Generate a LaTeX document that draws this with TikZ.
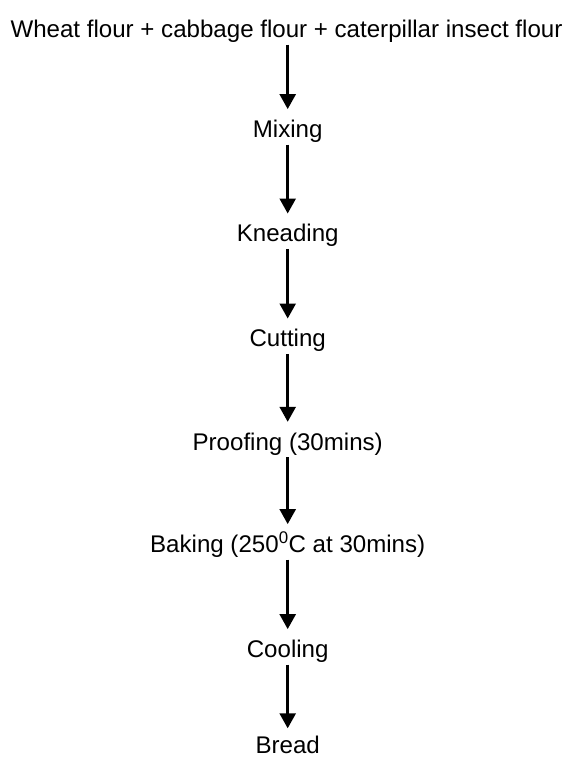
\documentclass[tikz,border=0pt]{standalone}
\usepackage{fontspec}
\setmainfont{Liberation Sans}
\usetikzlibrary{arrows.meta}
\begin{document}
\begin{tikzpicture}[x=1pt,y=1pt,
  stage/.style={anchor=base, inner sep=0pt, text height=28pt, text depth=7pt, font=\fontsize{24.1}{28}\selectfont},
  flow/.style={line width=2.5pt, -{Triangle[length=15pt,width=16pt]}}]
\useasboundingbox (0,0) rectangle (563,-760);
\node[stage] (s0) at (286.5,-37.5) {Wheat flour + cabbage flour + caterpillar insect flour};
\node[stage] (s1) at (287.7,-137.3) {Mixing};
\node[stage] (s2) at (287.7,-241.7) {Kneading};
\node[stage] (s3) at (287.7,-346.7) {Cutting};
\node[stage] (s4) at (287.7,-450) {Proofing (30mins)};
\node[stage] (s5) at (287.7,-552.3) {Baking (250\textsuperscript{0}C at 30mins)};
\node[stage] (s6) at (287.7,-657.3) {Cooling};
\node[stage, text depth=0pt, text height=25pt] (s7) at (287.7,-753.5) {Bread};
\foreach \a/\b in {s0/s1,s1/s2,s2/s3,s3/s4,s4/s5,s5/s6,s6/s7}
  \draw[flow] (\a.south -| s7.south) -- (\b.north -| s7.north);
\end{tikzpicture}
\end{document}
